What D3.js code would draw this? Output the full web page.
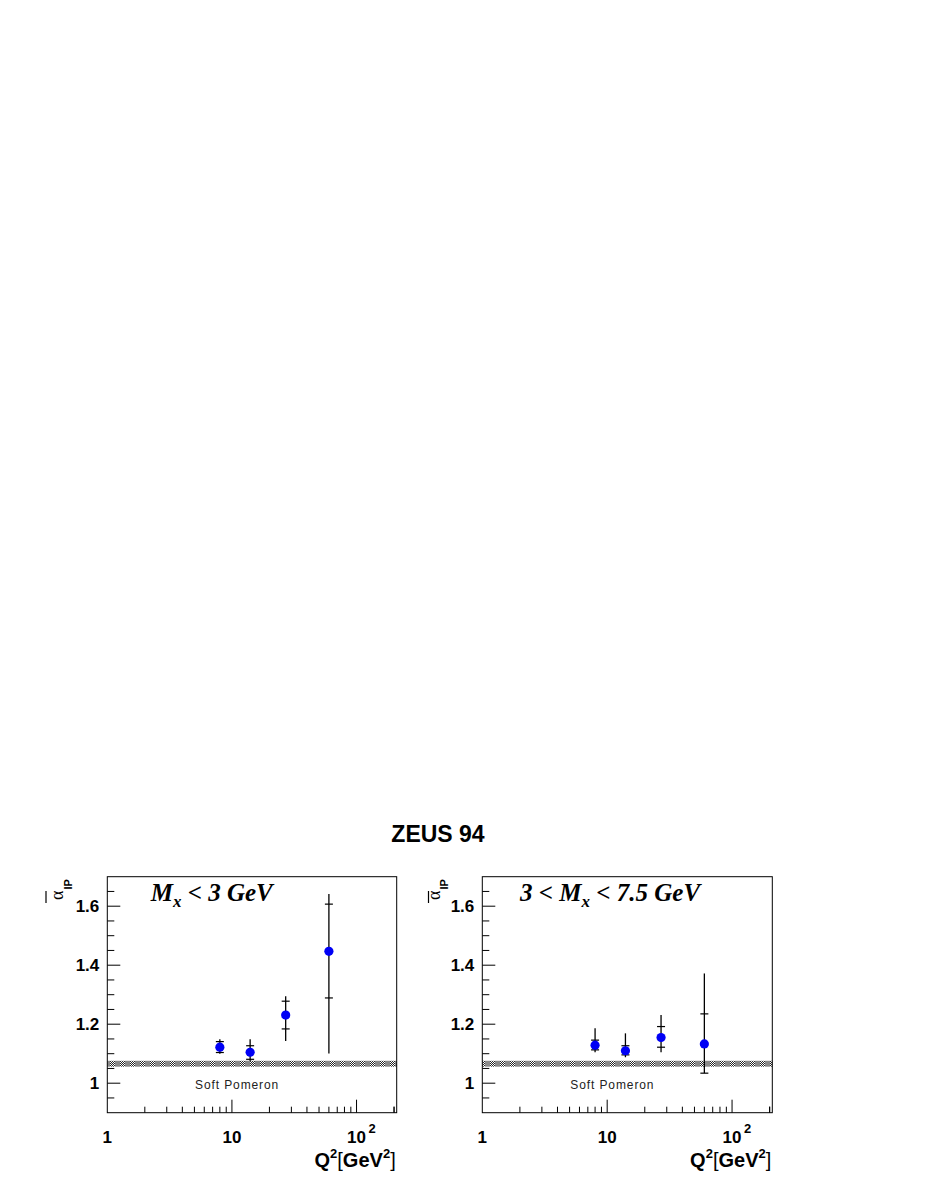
<!DOCTYPE html>
<html><head><meta charset="utf-8">
<script src="https://cdn.jsdelivr.net/npm/d3@7"></script>
<style>body{margin:0;background:#fff}svg{display:block}</style>
</head><body>
<script>
// ---- data ----
const q2 = [8, 14, 27, 60];
const panelLabels = ["Mx < 3 GeV", "3 < Mx < 7.5 GeV"];
// panel 1 : Mx < 3 GeV
const alpha1    = [1.122, 1.105, 1.231, 1.447];
const statUp1   = [0.019, 0.022, 0.047, 0.160];
const statDn1   = [0.018, 0.024, 0.047, 0.158];
const totUp1    = [0.027, 0.044, 0.064, 0.194];
const totDn1    = [0.022, 0.030, 0.088, 0.346];
// panel 2 : 3 < Mx < 7.5 GeV
const alpha2    = [1.129, 1.110, 1.155, 1.133];
const statUp2   = [0.017, 0.017, 0.037, 0.102];
const statDn2   = [0.016, 0.014, 0.033, 0.099];
const totUp2    = [0.057, 0.059, 0.076, 0.239];
const totDn2    = [0.024, 0.022, 0.050, 0.099];
const softPomeron = [1.056, 1.076];
const yTickLabels = ["1", "1.2", "1.4", "1.6"];
const yMajor = [1.0, 1.2, 1.4, 1.6];
const xMajor = [10, 100];
const xLabelVals = [1, 10, 100];

const W = 926, H = 1199;
const svg = d3.select("body").append("svg").attr("width", W).attr("height", H);
svg.append("rect").attr("width", W).attr("height", H).attr("fill", "#fff");

const defs = svg.append("defs");
const pat = defs.append("pattern").attr("id", "band").attr("patternUnits", "userSpaceOnUse")
  .attr("width", 10).attr("height", 2);
pat.append("rect").attr("width", 10).attr("height", 2).attr("fill", "#8a8a8a");
for (let i = 0; i < 5; i++) {
  pat.append("rect").attr("x", i).attr("y", i % 2).attr("width", 1).attr("height", 1).attr("fill", "#fff");
  pat.append("rect").attr("x", i).attr("y", (i + 1) % 2).attr("width", 1).attr("height", 1).attr("fill", "#222");
}

const sans = "'Liberation Sans', Arial, Helvetica, sans-serif";
const serif = "'Liberation Serif', 'Times New Roman', serif";

svg.append("text").attr("x", 438).attr("y", 841.5).attr("text-anchor", "middle")
  .attr("font-family", sans).attr("font-weight", "bold").attr("font-size", 23).text("ZEUS 94");

const topY = 876.7, bottomY = 1112.7;
const panels = [
  {x0: 107.3, x1: 396.7, alpha: alpha1, su: statUp1, sd: statDn1, tu: totUp1, td: totDn1, label: 0, ovl: 46, ax: 63},
  {x0: 482.3, x1: 772.3, alpha: alpha2, su: statUp2, sd: statDn2, tu: totUp2, td: totDn2, label: 1, ovl: 428.5, ax: 439.5}
];

panels.forEach(p => {
  const x = d3.scaleLog().domain([1, 210]).range([p.x0, p.x1]);
  const y = d3.scaleLinear().domain([0.9, 1.7]).range([bottomY, topY]);
  const g = svg.append("g");

  // soft pomeron band
  g.append("rect").attr("x", p.x0).attr("width", p.x1 - p.x0)
    .attr("y", y(softPomeron[1])).attr("height", y(softPomeron[0]) - y(softPomeron[1]))
    .attr("fill", "url(#band)");
  g.append("text").attr("x", x(11)).attr("y", y(0.981)).attr("text-anchor", "middle")
    .attr("font-family", sans).attr("font-size", 12).attr("letter-spacing", 0.9)
    .attr("fill", "#222").text("Soft Pomeron");

  // frame
  g.append("rect").attr("x", p.x0).attr("y", topY).attr("width", p.x1 - p.x0).attr("height", bottomY - topY)
    .attr("fill", "none").attr("stroke", "#000").attr("stroke-width", 1);

  // y ticks
  const yMinor = d3.range(0.95, 1.7, 0.05).map(v => +v.toFixed(2));
  yMinor.forEach(v => {
    const major = yMajor.some(m => Math.abs(m - v) < 1e-6);
    g.append("line").attr("x1", p.x0).attr("x2", p.x0 + (major ? 13 : 7))
      .attr("y1", y(v)).attr("y2", y(v)).attr("stroke", "#000").attr("stroke-width", 1);
  });
  yMajor.forEach((v, i) => {
    g.append("text").attr("x", p.x0 - 8).attr("y", y(v)).attr("dy", "0.36em").attr("text-anchor", "end")
      .attr("font-family", sans).attr("font-weight", "bold").attr("font-size", 17).text(yTickLabels[i]);
  });

  // x ticks
  const xt = [];
  for (let d = 1; d <= 100; d *= 10) for (let k = 1; k <= 9; k++) if (k * d > 1) xt.push(k * d);
  xt.push(200);
  xt.filter(v => v <= 210).forEach(v => {
    const major = xMajor.includes(v);
    g.append("line").attr("x1", x(v)).attr("x2", x(v)).attr("y1", bottomY).attr("y2", bottomY - (major ? 13 : 6))
      .attr("stroke", "#000").attr("stroke-width", 1);
  });
  xLabelVals.forEach(v => {
    const t = g.append("text").attr("x", x(v)).attr("y", 1143).attr("text-anchor", "middle")
      .attr("font-family", sans).attr("font-weight", "bold").attr("font-size", 17);
    t.text(v === 100 ? "10" : String(v));
    if (v === 100) {
      g.append("text").attr("x", x(v) + 12).attr("y", 1133).attr("font-family", sans)
        .attr("font-weight", "bold").attr("font-size", 13).text("2");
    }
  });

  // x title
  const xt2 = g.append("text").attr("x", p.x1 - 1).attr("y", 1167).attr("text-anchor", "end")
    .attr("font-family", sans).attr("font-weight", "bold").attr("font-size", 20);
  xt2.append("tspan").text("Q");
  xt2.append("tspan").attr("font-size", 13).attr("dy", -9).text("2");
  xt2.append("tspan").attr("dy", 9).attr("font-weight", "normal").text("[");
  xt2.append("tspan").text("GeV");
  xt2.append("tspan").attr("font-size", 13).attr("dy", -9).text("2");
  xt2.append("tspan").attr("dy", 9).attr("font-weight", "normal").text("]");

  // y title (rotated)
  const yt = g.append("text").attr("transform", `translate(${p.ax},900) rotate(-90)`)
    .attr("font-family", serif).attr("font-size", 18);
  yt.append("tspan").text("α");
  yt.append("tspan").attr("font-family", sans).attr("font-weight", "bold").attr("font-size", 11)
    .attr("dy", 8.5).attr("dx", 1).text("IP");
  g.append("line").attr("x1", p.ovl).attr("x2", p.ovl).attr("y1", 891).attr("y2", 903)
    .attr("stroke", "#000").attr("stroke-width", 1.2);

  // panel label
  const pl = g.append("text").attr("x", p.label === 0 ? 150.7 : 520).attr("y", 901)
    .attr("font-family", serif).attr("font-weight", "bold").attr("font-style", "italic").attr("font-size", 25);
  if (p.label === 0) {
    pl.append("tspan").text("M");
    pl.append("tspan").attr("font-size", 17).attr("dy", 6).text("x");
    pl.append("tspan").attr("dy", -6).text(" < 3 GeV");
  } else {
    pl.append("tspan").text("3 < M");
    pl.append("tspan").attr("font-size", 17).attr("dy", 6).text("x");
    pl.append("tspan").attr("dy", -6).text(" < 7.5 GeV");
  }

  // error bars + points
  q2.forEach((q, i) => {
    const cx = x(q), v = p.alpha[i];
    g.append("line").attr("x1", cx).attr("x2", cx).attr("y1", y(v + p.tu[i])).attr("y2", y(v - p.td[i]))
      .attr("stroke", "#000").attr("stroke-width", 1.3);
    [v + p.su[i], v - p.sd[i]].forEach(s => {
      g.append("line").attr("x1", cx - 4).attr("x2", cx + 4).attr("y1", y(s)).attr("y2", y(s))
        .attr("stroke", "#000").attr("stroke-width", 1.2);
    });
    g.append("circle").attr("cx", cx).attr("cy", y(v)).attr("r", 4.6).attr("fill", "#0000f5");
  });
});
</script>
</body></html>
